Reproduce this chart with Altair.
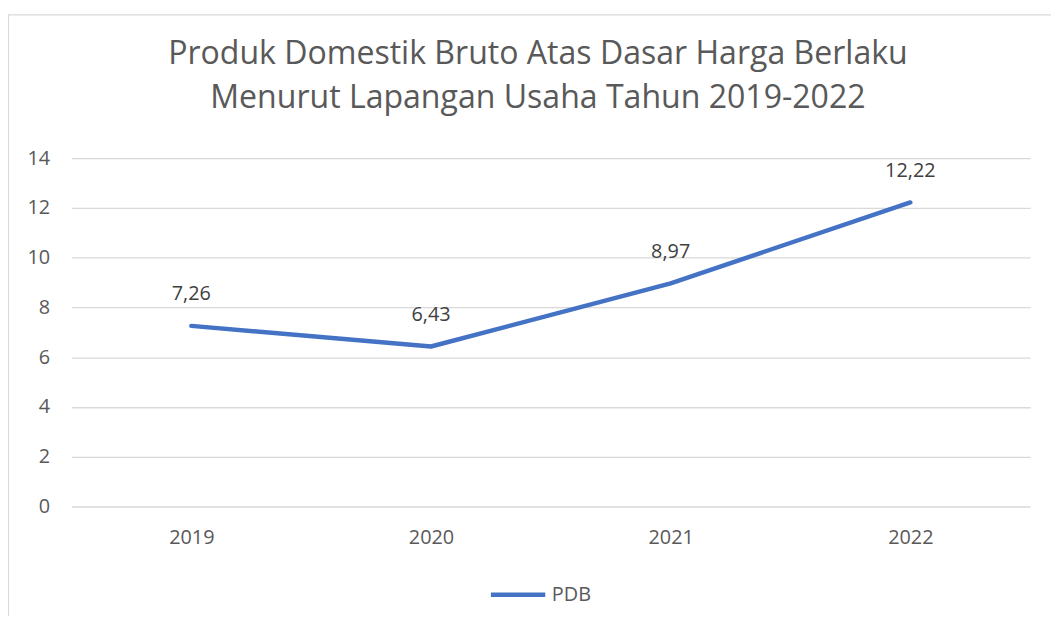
import altair as alt
import pandas as pd

years = ["2019", "2020", "2021", "2022"]
pdb = [7.26, 6.43, 8.97, 12.22]
series = ["PDB", "PDB", "PDB", "PDB"]
y_ticks = [0, 2, 4, 6, 8, 10, 12, 14]

df = pd.DataFrame({"Tahun": years, "PDB": pdb, "Seri": series})

FONT = "Open Sans"
GRAY = "#595959"
FS = 20

base = alt.Chart(df)

border = alt.Chart(pd.DataFrame({"k": [0]})).mark_rect(
    fill=None, stroke="#D9D9D9", strokeWidth=1.2
).encode(
    x=alt.value(-63.5), x2=alt.value(1200),
    y=alt.value(-144.5), y2=alt.value(700)
)

x_enc = alt.X("Tahun:N", title=None, sort=years,
              scale=alt.Scale(type="point", padding=0.5),
              axis=alt.Axis(domain=False, ticks=False, grid=False, labelAngle=0,
                            labelPadding=21, labelFontSize=FS, labelColor=GRAY,
                            labelFont=FONT))
y_enc = alt.Y("PDB:Q", title=None,
              scale=alt.Scale(domain=[0, 14], nice=False),
              axis=alt.Axis(values=y_ticks, domain=False, ticks=False,
                            gridColor="#D9D9D9", gridWidth=1.3,
                            labelPadding=22, labelFontSize=FS, labelColor=GRAY,
                            labelFont=FONT))

line = base.mark_line(strokeWidth=4.5, strokeCap="round", strokeJoin="round").encode(
    x=x_enc, y=y_enc,
    color=alt.Color("Seri:N",
                    scale=alt.Scale(domain=["PDB"], range=["#4472C4"]),
                    legend=alt.Legend(title=None, orient="none", legendX=420, legendY=410,
                                      symbolType="stroke", symbolSize=3000,
                                      symbolStrokeWidth=4.5, labelFontSize=FS,
                                      labelColor=GRAY, labelFont=FONT, padding=0,
                                      labelOffset=4))
)

labels = base.transform_calculate(
    lbl="replace(format(datum.PDB, '.2f'), '.', ',')"
).mark_text(fontSize=FS, font=FONT, color="#404040", baseline="middle", dy=-32).encode(
    x=alt.X("Tahun:N", sort=years), y="PDB:Q", text="lbl:N"
)

chart = alt.layer(border, line, labels).properties(
    width=966, height=351,
    autosize=alt.AutoSizeParams(type="none"),
    padding={"left": 64, "top": 149, "right": 21, "bottom": 108},
    title=alt.TitleParams(
        text=["Produk Domestik Bruto Atas Dasar Harga Berlaku",
              "Menurut Lapangan Usaha Tahun 2019-2022"],
        fontSize=32.3, font=FONT, fontWeight="normal", color=GRAY,
        anchor="middle", dx=-13, offset=-101, lineHeight=44
    )
).configure_view(stroke=None)

chart.save("out.html", embed_options={"renderer": "svg", "actions": False})
